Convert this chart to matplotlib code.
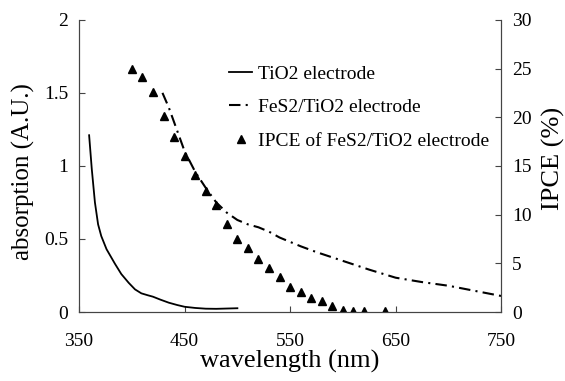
import matplotlib
matplotlib.use("Agg")
import matplotlib.pyplot as plt

plt.rcParams['font.family'] = ['Liberation Serif', 'DejaVu Serif']

# TiO2 electrode absorption
tio2_wl = [359.5, 362, 365, 368, 371, 376, 384, 390, 397, 403, 409, 415, 420, 427, 435, 443, 450, 460, 470, 480, 490, 500]
tio2_abs = [1.21, 0.98, 0.75, 0.6, 0.52, 0.43, 0.33, 0.26, 0.2, 0.155, 0.128, 0.115, 0.105, 0.085, 0.064, 0.048, 0.036, 0.028, 0.023, 0.022, 0.024, 0.026]

# FeS2/TiO2 electrode absorption
fes2_wl = [429, 435, 440, 450, 460, 470, 480, 490, 500, 510, 520, 530, 540, 550, 560, 575, 600, 625, 650, 675, 700, 725, 750]
fes2_abs = [1.5, 1.4, 1.3, 1.1, 0.96, 0.85, 0.75, 0.68, 0.63, 0.6, 0.58, 0.55, 0.51, 0.48, 0.45, 0.41, 0.35, 0.29, 0.235, 0.205, 0.18, 0.145, 0.11]

# IPCE of FeS2/TiO2 electrode
ipce_wl = [400, 410, 420, 430, 440, 450, 460, 470, 480, 490, 500, 510, 520, 530, 540, 550, 560, 570, 580, 590, 600, 610, 620, 640]
ipce_val = [25.0, 24.1, 22.6, 20.1, 18.0, 16.0, 14.1, 12.4, 11.0, 9.0, 7.5, 6.6, 5.4, 4.5, 3.6, 2.6, 2.1, 1.4, 1.1, 0.6, 0.2, 0.15, 0.15, 0.15]

fig = plt.figure(figsize=(5.65, 3.81), dpi=100)
ax = fig.add_axes([0.14, 0.181, 0.747, 0.767])
ax2 = ax.twinx()

l1, = ax.plot(tio2_wl, tio2_abs, color="black", lw=1.3, label="TiO2 electrode")
l2, = ax.plot(fes2_wl, fes2_abs, color="black", lw=1.5, label="FeS2/TiO2 electrode")
l2.set_dashes([5.5, 2.5, 1.0, 2.5])
l3, = ax2.plot(ipce_wl, ipce_val, "^", color="black", ms=5.5, label="IPCE of FeS2/TiO2 electrode")

ax.set_xlim(350, 750)
ax.set_ylim(0, 2)
ax2.set_ylim(0, 30)
ax.set_xticks([350, 450, 550, 650, 750])
ax.set_yticks([0, 0.5, 1, 1.5, 2])
ax.set_yticklabels(["0", "0.5", "1", "1.5", "2"])
ax2.set_yticks([0, 5, 10, 15, 20, 25, 30])

for a in (ax, ax2):
    a.spines['top'].set_visible(False)
    for s in a.spines.values():
        s.set_linewidth(0.8)
        s.set_color("#444444")
    a.tick_params(direction="in", length=4, width=0.8, labelsize=14, color="#444444")
ax.tick_params(axis="x", pad=15)
ax.tick_params(axis="y", pad=8)
ax2.tick_params(axis="y", pad=8)

ax.set_xlabel("wavelength (nm)", fontsize=19, labelpad=0)
ax.set_ylabel("absorption (A.U.)", fontsize=18)
ax.yaxis.set_label_coords(-0.104, 0.479)
ax2.set_ylabel("IPCE (%)", fontsize=19)
ax2.yaxis.set_label_coords(1.096, 0.527)

leg = ax.legend(handles=[l1, l2, l3], loc="upper left", bbox_to_anchor=(0.355, 0.845),
                frameon=False, fontsize=14, handlelength=1.2, handletextpad=0.3,
                labelspacing=0.82, borderaxespad=0, borderpad=0)

fig.savefig("out.png", dpi=100)
